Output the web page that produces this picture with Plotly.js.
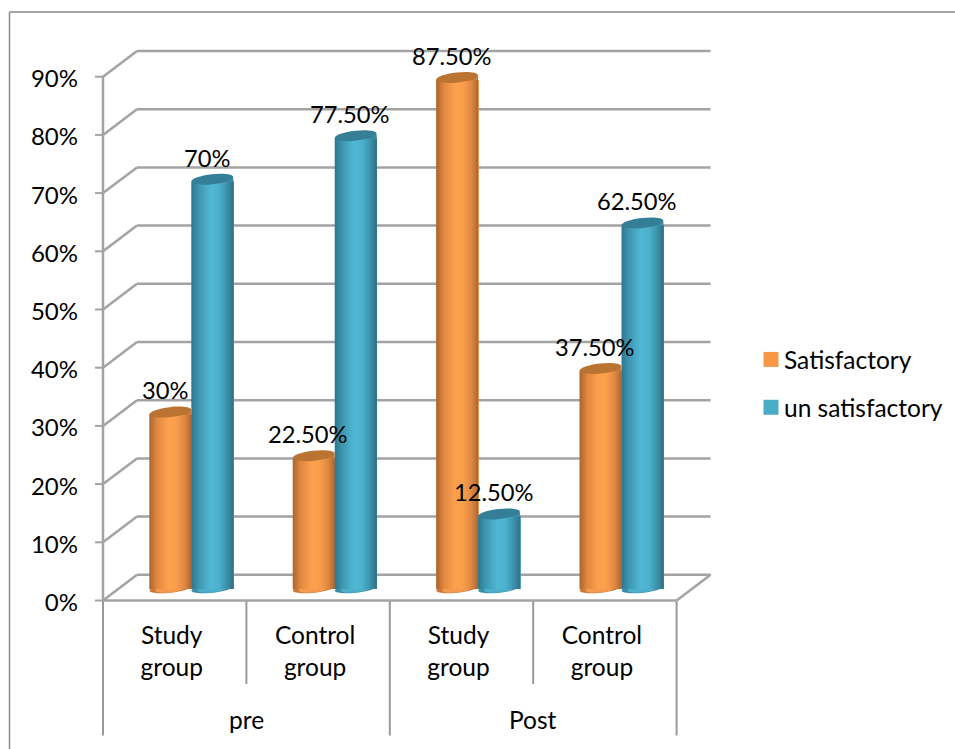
<!DOCTYPE html>
<html>
<head>
<meta charset="utf-8">
<script src="https://cdn.plot.ly/plotly-3.0.1.min.js"></script>
<style>html,body{margin:0;padding:0;background:#fff}</style>
</head>
<body>
<div id="chart" style="width:955px;height:749px"></div>
<script>
// Survey results: share of satisfactory / unsatisfactory answers per group and phase.
const groupLabels = ["pre", "Post"];
const categoryLabels = ["Study<br>group", "Control<br>group", "Study<br>group", "Control<br>group"];
const satisfactory = [30, 22.5, 87.5, 37.5];
const unsatisfactory = [70, 77.5, 12.5, 62.5];
const satisfactoryText = ["30%", "22.50%", "87.50%", "37.50%"];
const unsatisfactoryText = ["70%", "77.50%", "12.50%", "62.50%"];
const yTicks = [0, 10, 20, 30, 40, 50, 60, 70, 80, 90];

const W = 955, H = 749;
const FONT = "Lato, 'Open Sans', sans-serif";
const INK = "#000000";
const GRID = "#a3a3a3";

// Pixel geometry of the box: front plane, depth of the floor, padding of the plot area.
const frontLeft = 103, floorY = 600.5, catStep = 143.4, pctStep = 5.82;
const depthX = 34, depthY = 25.7;
const plotL = 92, plotR = 716, plotT = 44, plotB = 604;
const barCenter0 = 191.3, barBaseY = 589, barW = 42;

const idx = categoryLabels.map((_, i) => i);
const catPx = i => frontLeft + catStep * (i + 0.5);
const xRange = px0 => [(plotL - px0) / catStep, (plotR - px0) / catStep];
const yRange = px0 => [(px0 - plotB) / pctStep, (px0 - plotT) / pctStep];
const xVal = px => (px - catPx(0)) / catStep;

const traces = [];
const annotations = [];
const shapes = [];

// Horizontal shading across a cylinder, built from overlapping narrowing bars.
function mix(a, b, t) {
  return "rgb(" + a.map((v, k) => Math.round(v + (b[k] - v) * t)).join(",") + ")";
}
function shade(stops, t) {
  for (let k = 1; k < stops.length; k++) {
    if (t <= stops[k][0]) {
      const p = stops[k - 1], q = stops[k];
      return mix(p[1], q[1], (t - p[0]) / (q[0] - p[0]));
    }
  }
  const last = stops[stops.length - 1][1];
  return mix(last, last, 0);
}
const orangeStops = [[0, [168, 100, 48]], [0.18, [225, 135, 64]], [0.45, [253, 161, 78]], [0.65, [250, 158, 76]], [0.85, [222, 135, 66]], [1, [170, 102, 50]]];
const tealStops = [[0, [46, 118, 140]], [0.18, [62, 150, 176]], [0.45, [80, 183, 212]], [0.65, [78, 178, 206]], [0.85, [60, 145, 170]], [1, [48, 112, 132]]];

// Outline of a slightly rotated ellipse, in pixels around the bar's top.
function tiltedEllipse(cx, cy, a, b, tilt) {
  const k = 0.5523, cos = Math.cos(tilt), sin = Math.sin(tilt);
  const p = (u, v) => (cx + u * cos - v * sin).toFixed(2) + "," + (cy + u * sin + v * cos).toFixed(2);
  return "M" + p(-a, 0) +
    " C" + p(-a, k * b) + " " + p(-k * a, b) + " " + p(0, b) +
    " C" + p(k * a, b) + " " + p(a, k * b) + " " + p(a, 0) +
    " C" + p(a, -k * b) + " " + p(k * a, -b) + " " + p(0, -b) +
    " C" + p(-k * a, -b) + " " + p(-a, -k * b) + " " + p(-a, 0) + " Z";
}

const STRIPS = 21;
const capTilt = 0.11, capRise = 4.6;
function addCylinders(values, stops, shift, capColor, footColor, edgeColor) {
  for (let s = 0; s < STRIPS; s++) {
    const t0 = s / STRIPS;
    traces.push({
      type: "bar", x: idx, y: values, xaxis: "x2", yaxis: "y2",
      width: (1 - t0) * barW / catStep,
      offset: (shift - barW / 2 + t0 * barW) / catStep,
      marker: { color: shade(stops, t0 + 0.5 / STRIPS), line: { width: 0 } },
      showlegend: false, hoverinfo: "skip"
    });
  }
  const h = barW / 2;
  idx.forEach(i => {
    const anchored = {
      xref: "x2", yref: "y2", xsizemode: "pixel", ysizemode: "pixel",
      xanchor: i, line: { width: 0 }
    };
    // Wedge joining the body to the raised right end of the cap.
    shapes.push(Object.assign({}, anchored, {
      type: "path", layer: "above", yanchor: values[i],
      path: `M${shift + h - 14},-0.5 L${shift + h},-0.5 L${shift + h},${capRise - 1} L${shift + h - 3},${capRise - 1} Z`,
      fillcolor: edgeColor
    }));
    shapes.push(Object.assign({}, anchored, {
      type: "path", layer: "above", yanchor: values[i],
      path: tiltedEllipse(shift, capRise / 2, h, 5, capTilt),
      fillcolor: capColor
    }));
    // Rounded foot: dark rim with a lighter middle, following the body's shading.
    shapes.push(Object.assign({}, anchored, {
      type: "path", layer: "below", yanchor: 0,
      path: tiltedEllipse(shift, 0.5, h, 4.2, capTilt),
      fillcolor: edgeColor
    }));
    shapes.push(Object.assign({}, anchored, {
      type: "path", layer: "below", yanchor: 0,
      path: tiltedEllipse(shift, 0.5, h * 0.72, 4, capTilt),
      fillcolor: footColor
    }));
  });
}

function addLabels(values, texts, shift) {
  idx.forEach(i => annotations.push({
    xref: "x2", yref: "y2", x: i, y: values[i], text: texts[i],
    showarrow: false, xanchor: "center", yanchor: "middle",
    xshift: shift - 5.5, yshift: 24,
    font: { family: FONT, size: 23.7, color: INK }
  }));
}

// Back wall, left wall and floor of the box.
function line(x0, y0, x1, y1, color, width) {
  shapes.push({ type: "line", layer: "below", xref: "x", yref: "y", x0, y0, x1, y1, line: { color, width } });
}
const backLeft = xVal(frontLeft + depthX), backRight = xVal(frontLeft + catStep * 4 + depthX);
const left = xVal(frontLeft), right = xVal(frontLeft + catStep * 4);
const rise = depthY / pctStep;
const tickOut = 8 / catStep;
yTicks.forEach(v => {
  line(left - tickOut, v, left, v, GRID, 2);
  line(left, v, backLeft, v + rise, GRID, 2.5);
  line(backLeft, v + rise, backRight, v + rise, GRID, 2.5);
});
line(left, 0, left, 90, GRID, 2.5);
line(left, 0, right, 0, GRID, 2.5);
line(right, 0, backRight, rise, GRID, 2.5);

addCylinders(satisfactory, orangeStops, -barW / 2, "#bb7332", "#f59b50", "#c67a3c");
addCylinders(unsatisfactory, tealStops, barW / 2, "#347f97", "#4cb0cc", "#3d8ca4");
addLabels(satisfactory, satisfactoryText, -barW / 2);
addLabels(unsatisfactory, unsatisfactoryText, barW / 2);

// Legend entries with large square swatches.
[["Satisfactory", "#f79646"], ["un satisfactory", "#4bacc6"]].forEach(([name, color]) => {
  traces.push({
    type: "scatter", mode: "markers", x: [null], y: [null], name,
    legendgroup: name, marker: { symbol: "square", size: 15, color }, hoverinfo: "skip"
  });
});

// Outer chart frame: top and left edges only.
const py = px => 1 - px / H;
shapes.push({ type: "line", layer: "below", xref: "paper", yref: "paper", x0: 9.5 / W, x1: 1, y0: py(12), y1: py(12), line: { color: "#8a8a8a", width: 1.5 } });
shapes.push({ type: "line", layer: "below", xref: "paper", yref: "paper", x0: 9.5 / W, x1: 9.5 / W, y0: py(12), y1: 0, line: { color: "#8a8a8a", width: 1.5 } });

// Two-level category dividers under the floor.
for (let i = 0; i <= 4; i++) {
  const outer = i % 2 === 0;
  const xv = xVal(frontLeft + catStep * i);
  shapes.push({
    type: "line", layer: "below", xref: "x", yref: "paper", x0: xv, x1: xv,
    y0: py(floorY), y1: py(outer ? 735.5 : 684), line: { color: "#999999", width: 2 }
  });
}
groupLabels.forEach((g, k) => annotations.push({
  xref: "paper", yref: "paper", x: (frontLeft + catStep * (2 * k + 1)) / W, y: py(719),
  text: g, showarrow: false, xanchor: "center", yanchor: "middle",
  font: { family: FONT, size: 24.5, color: INK }
}));

const layout = {
  width: W, height: H,
  margin: { l: 0, r: 0, t: 0, b: 0 },
  paper_bgcolor: "#ffffff", plot_bgcolor: "rgba(0,0,0,0)",
  barmode: "overlay",
  hovermode: false,
  font: { family: FONT, size: 24, color: INK },
  xaxis: {
    domain: [plotL / W, plotR / W], range: xRange(catPx(0)), anchor: "free", position: py(floorY),
    tickmode: "array", tickvals: idx, ticktext: categoryLabels,
    ticks: "", showgrid: false, zeroline: false, showline: false,
    ticklabelstandoff: 18, ticklabelshift: -3, tickfont: { family: FONT, size: 24.5, color: INK }
  },
  yaxis: {
    domain: [py(plotB), py(plotT)], range: yRange(floorY), anchor: "free", position: frontLeft / W,
    tickmode: "array", tickvals: yTicks, ticktext: yTicks.map(v => v + "%"),
    ticks: "", showgrid: false, zeroline: false, showline: false,
    ticklabelstandoff: 25, ticklabelshift: 2, tickfont: { family: FONT, size: 24, color: INK }
  },
  // Bars sit mid-depth, so they use the same scales moved back into the box.
  xaxis2: { overlaying: "x", anchor: "y2", range: xRange(barCenter0), visible: false, fixedrange: true },
  yaxis2: { overlaying: "y", anchor: "x2", range: yRange(barBaseY), visible: false, fixedrange: true },
  showlegend: true,
  legend: {
    x: 744 / W, y: py(337), xanchor: "left", yanchor: "top",
    traceorder: "grouped", tracegroupgap: 13, bgcolor: "rgba(0,0,0,0)",
    font: { family: FONT, size: 24.5, color: INK }
  },
  shapes, annotations
};

Plotly.newPlot("chart", traces, layout, { displayModeBar: false, staticPlot: true }).then(gd => {
  // Bring the legend swatches closer to their text.
  gd.querySelectorAll(".legend .legendsymbols").forEach(g => g.setAttribute("transform", "translate(7,0)"));
});
</script>
</body>
</html>
